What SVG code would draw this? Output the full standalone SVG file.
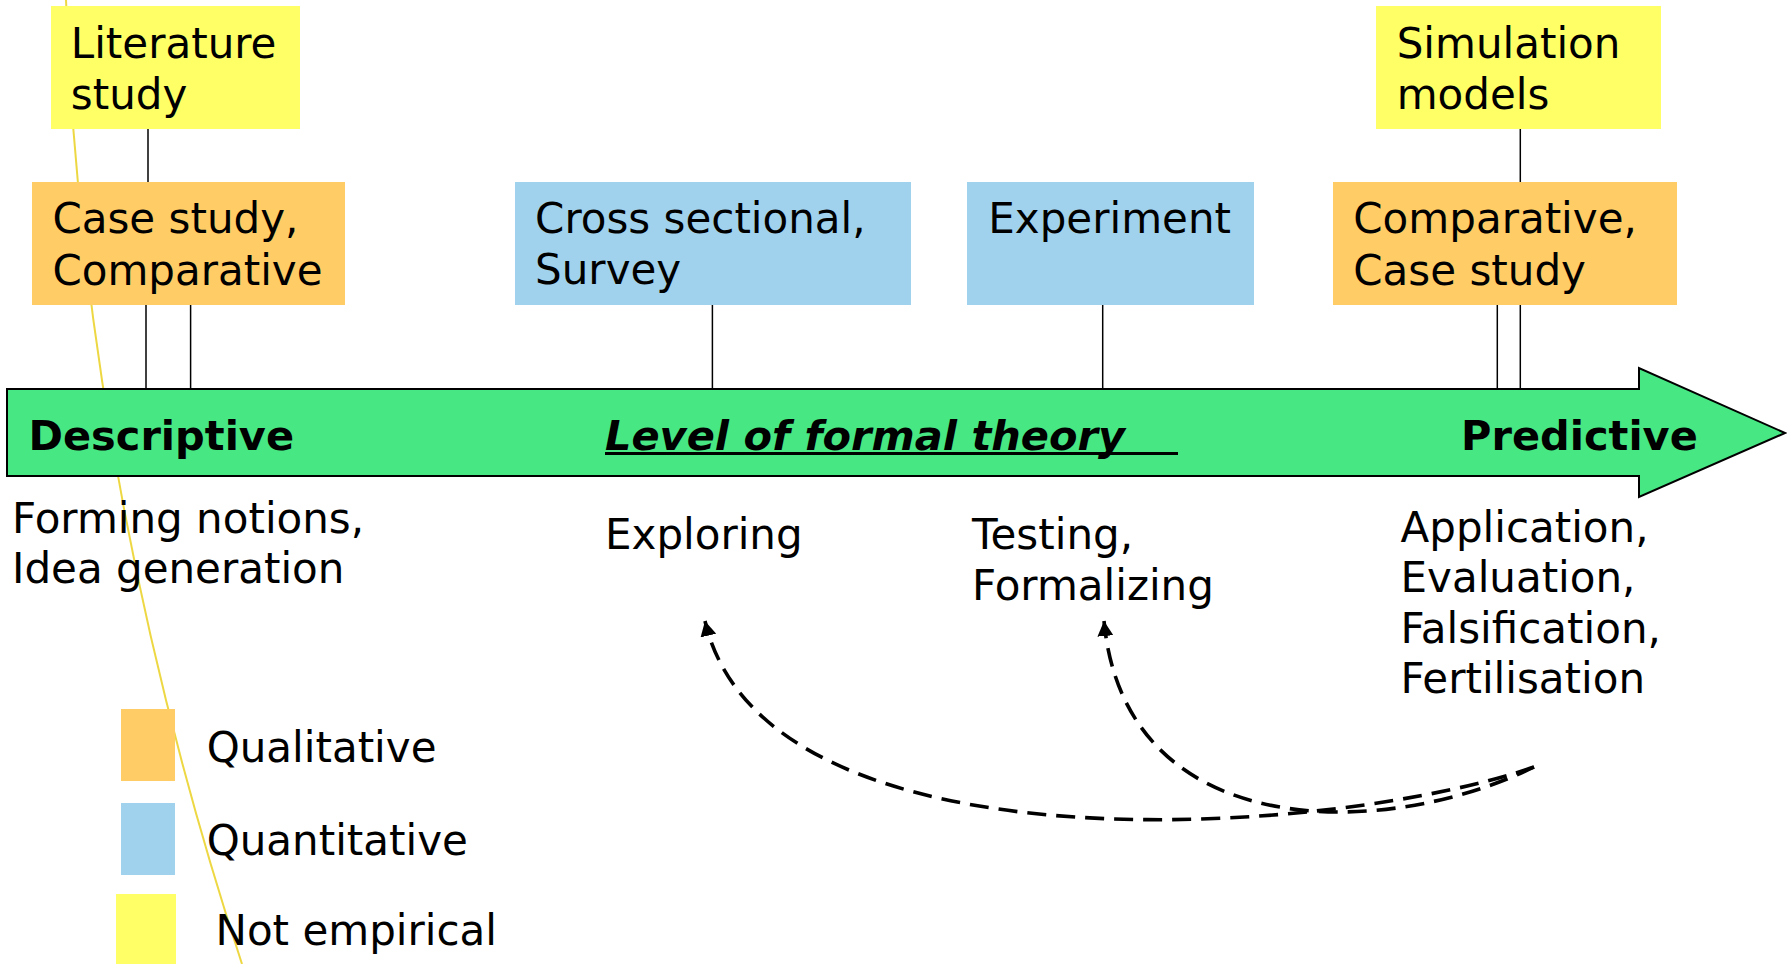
<svg xmlns="http://www.w3.org/2000/svg" width="1787" height="964" viewBox="0 0 1787 964">
<style>
  .t { font-family: "DejaVu Sans", Verdana, sans-serif; font-size: 42px; fill: #000; }
  .b { font-weight: bold; font-size: 41.5px; }
  .yel { fill: #FFFF66; }
  .ora { fill: #FFCC66; }
  .blu { fill: #A0D2EE; }
  .conn line { stroke: #000; stroke-width: 1.5; }
  .dash { fill: none; stroke: #000; stroke-width: 3.6; stroke-dasharray: 19 10; }
</style>
<defs>
  <marker id="ah" viewBox="0 0 15 16" refX="15" refY="8" markerWidth="15" markerHeight="16" markerUnits="userSpaceOnUse" orient="auto">
    <path d="M0,0 L15,8 L0,16 z" fill="#000"/>
  </marker>
</defs>
<rect width="1787" height="964" fill="#fff"/>

<path id="yellow-curve" d="M66,0 Q84,482 242,964" fill="none" stroke="#EDD844" stroke-width="2"/>

<g id="axis">
  <polygon points="7,389 1639,389 1639,368 1785,433 1639,497 1639,476 7,476" fill="#47E884" stroke="#000" stroke-width="2"/>
  <text class="t b" x="28.5" y="450">Descriptive</text>
  <text class="t b" x="605" y="450" font-style="italic">Level of formal theory</text>
  <line x1="605" y1="453.5" x2="1178" y2="453.5" stroke="#000" stroke-width="3"/>
  <text class="t b" x="1461" y="450">Predictive</text>
</g>

<g class="conn" id="connectors">
  <line x1="148" y1="129" x2="148" y2="182"/>
  <line x1="146" y1="305" x2="146" y2="389"/>
  <line x1="190.6" y1="305" x2="190.6" y2="389"/>
  <line x1="712.4" y1="305" x2="712.4" y2="389"/>
  <line x1="1102.7" y1="305" x2="1102.7" y2="389"/>
  <line x1="1520.3" y1="129" x2="1520.3" y2="182"/>
  <line x1="1497.3" y1="305" x2="1497.3" y2="389"/>
  <line x1="1520.3" y1="305" x2="1520.3" y2="389"/>
</g>

<g id="literature">
  <rect class="yel" x="51" y="6" width="249" height="123"/>
  <text class="t" x="70.8" y="58.3">Literature</text>
  <text class="t" x="70.8" y="108.5">study</text>
</g>
<g id="case-comparative">
  <rect class="ora" x="32" y="182" width="313" height="123"/>
  <text class="t" x="52.4" y="233.3">Case study,</text>
  <text class="t" x="52.4" y="284.5">Comparative</text>
</g>
<g id="cross-sectional">
  <rect class="blu" x="515" y="182" width="396" height="123"/>
  <text class="t" x="535.1" y="232.7">Cross sectional,</text>
  <text class="t" x="535.1" y="283.5">Survey</text>
</g>
<g id="experiment">
  <rect class="blu" x="967" y="182" width="287" height="123"/>
  <text class="t" x="988.3" y="232.7">Experiment</text>
</g>
<g id="simulation">
  <rect class="yel" x="1376" y="6" width="285" height="123"/>
  <text class="t" x="1396.7" y="58.3">Simulation</text>
  <text class="t" x="1396.7" y="108.5">models</text>
</g>
<g id="comparative-case">
  <rect class="ora" x="1333" y="182" width="344" height="123"/>
  <text class="t" x="1353.3" y="233.3">Comparative,</text>
  <text class="t" x="1353.3" y="284.5">Case study</text>
</g>

<g id="stage-labels">
  <text class="t" x="12" y="532.7">Forming notions,</text>
  <text class="t" x="12" y="583.3">Idea generation</text>
  <text class="t" x="605" y="549.3">Exploring</text>
  <text class="t" x="972" y="549.3">Testing,</text>
  <text class="t" x="972" y="600">Formalizing</text>
  <text class="t" x="1400.5" y="541.7">Application,</text>
  <text class="t" x="1400.5" y="591.7">Evaluation,</text>
  <text class="t" x="1400.5" y="643">Falsification,</text>
  <text class="t" x="1400.5" y="693">Fertilisation</text>
</g>

<g id="feedback-arrows">
  <path class="dash" d="M1534,767 C1340,835 765,880 705,621" marker-end="url(#ah)"/>
  <path class="dash" d="M1534,767 C1385,840 1125,845 1104,621" marker-end="url(#ah)"/>
</g>

<g id="legend">
  <rect class="ora" x="121" y="709" width="54" height="72"/>
  <text class="t" x="206.7" y="761.7">Qualitative</text>
  <rect class="blu" x="121" y="803" width="54" height="72"/>
  <text class="t" x="206.7" y="855">Quantitative</text>
  <rect class="yel" x="116" y="894" width="60" height="70"/>
  <text class="t" x="215.5" y="945">Not empirical</text>
</g>
</svg>
